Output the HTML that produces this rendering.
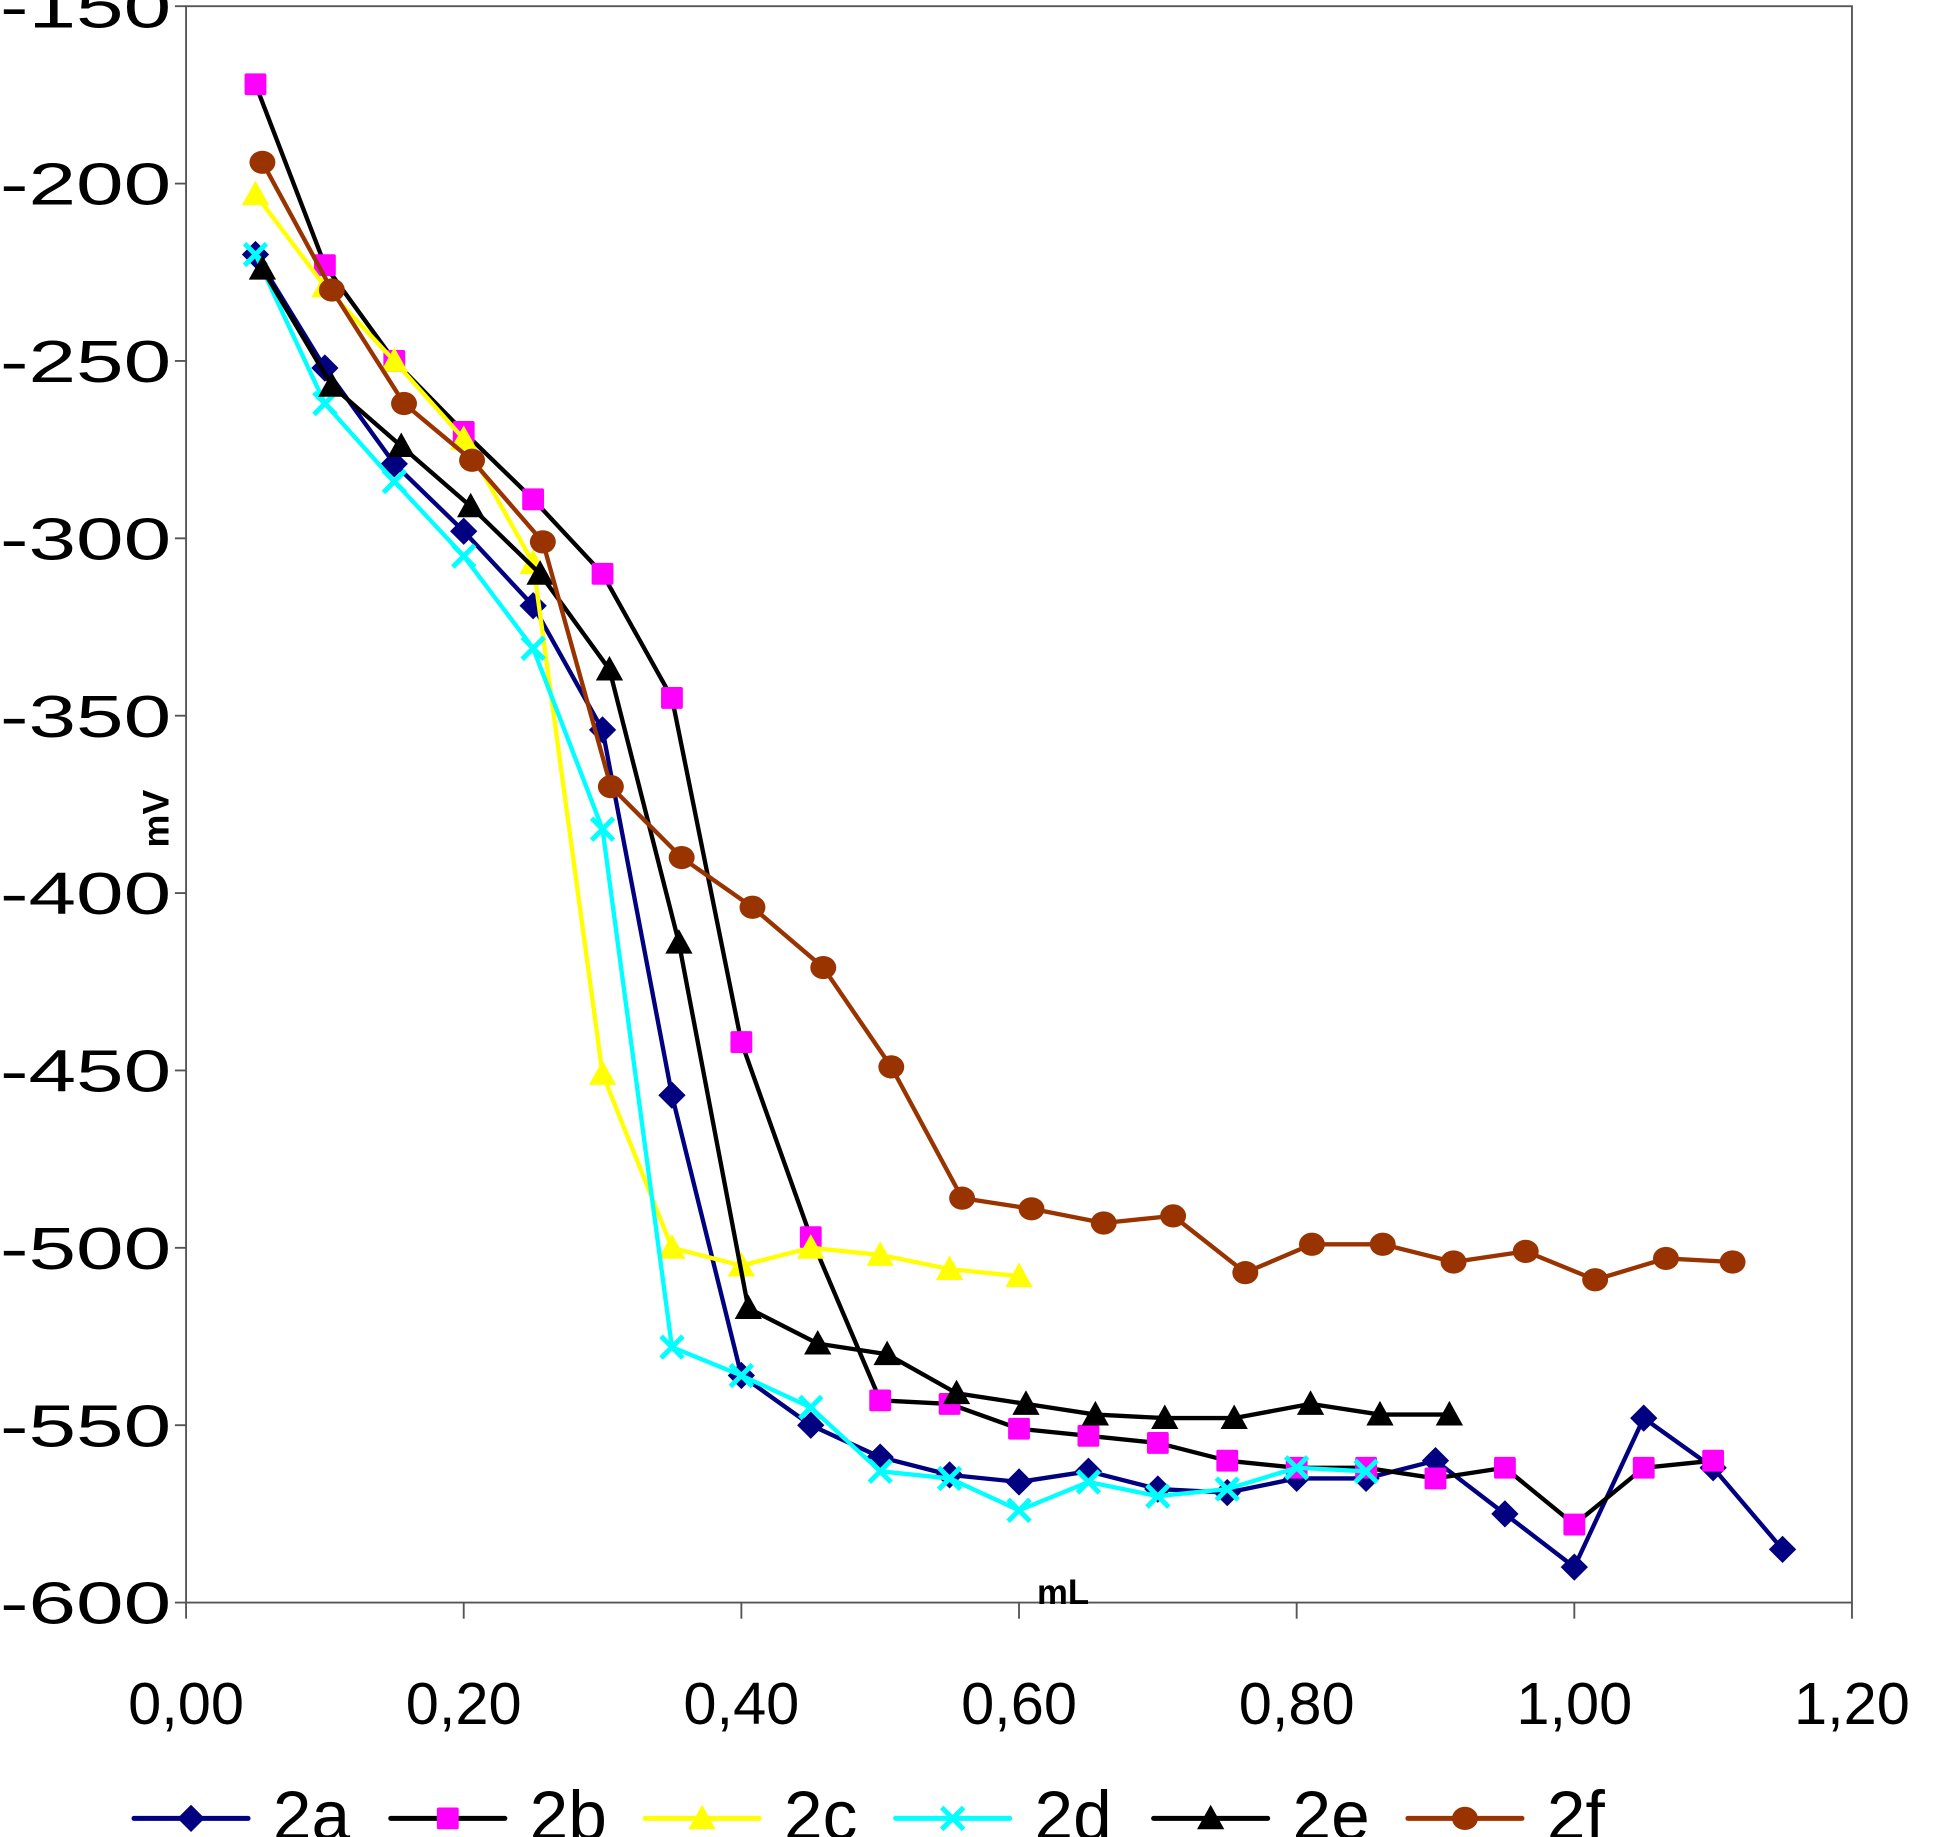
<!DOCTYPE html>
<html><head><meta charset="utf-8"><style>
html,body{margin:0;padding:0;background:#fff;overflow:hidden}
svg{display:block}
text{font-family:"Liberation Sans",sans-serif;fill:#000}
</style></head><body>
<svg id="chart" width="1945" height="1837" viewBox="0 0 1568 1481" preserveAspectRatio="none" xmlns="http://www.w3.org/2000/svg">
<g id="axes"></g>
<g id="series"></g>
<g id="legend"></g>
<text x="136" y="660" font-size="30" font-weight="bold" text-anchor="middle" transform="rotate(-90 136 660)">mV</text>
<text x="857" y="1293" font-size="28" font-weight="bold" text-anchor="middle">mL</text>
</svg>
<script>
const xTicks=[0,0.2,0.4,0.6,0.8,1.0,1.2];
const xTickLabels=["0,00","0,20","0,40","0,60","0,80","1,00","1,20"];
const yTicks=[-150,-200,-250,-300,-350,-400,-450,-500,-550,-600];
const yTickLabels=["-150","-200","-250","-300","-350","-400","-450","-500","-550","-600"];
const names=["2a","2b","2c","2d","2e","2f"];
const x2a=[0.05,0.10,0.15,0.20,0.25,0.30,0.35,0.40,0.45,0.50,0.55,0.60,0.65,0.70,0.75,0.80,0.85,0.90,0.95,1.00,1.05,1.10,1.15];
const y2a=[-220,-252,-279,-298,-319,-354,-457,-536,-550,-559,-564,-566,-563,-568,-569,-565,-565,-560,-575,-590,-548,-562,-585];
const x2b=[0.05,0.10,0.15,0.20,0.25,0.30,0.35,0.40,0.45,0.50,0.55,0.60,0.65,0.70,0.75,0.80,0.85,0.90,0.95,1.00,1.05,1.10];
const y2b=[-172,-223,-250,-270,-289,-310,-345,-442,-497,-543,-544,-551,-553,-555,-560,-562,-562,-565,-562,-578,-562,-560];
const x2c=[0.05,0.10,0.15,0.20,0.25,0.30,0.35,0.40,0.45,0.50,0.55,0.60];
const y2c=[-203,-229,-250,-272,-307,-451,-500,-505,-500,-502,-506,-508];
const x2d=[0.05,0.10,0.15,0.20,0.25,0.30,0.35,0.40,0.45,0.50,0.55,0.60,0.65,0.70,0.75,0.80,0.85];
const y2d=[-220,-262,-284,-305,-331,-382,-528,-536,-545,-563,-565,-574,-566,-570,-568,-562,-563];
const x2e=[0.055,0.105,0.155,0.205,0.255,0.305,0.355,0.405,0.455,0.505,0.555,0.605,0.655,0.705,0.755,0.81,0.86,0.91];
const y2e=[-224,-257,-274,-291,-310,-337,-414,-517,-527,-530,-541,-544,-547,-548,-548,-544,-547,-547];
const x2f=[0.055,0.105,0.157,0.206,0.257,0.306,0.357,0.408,0.459,0.508,0.559,0.609,0.661,0.711,0.763,0.811,0.862,0.913,0.965,1.015,1.066,1.114];
const y2f=[-194,-230,-262,-278,-301,-370,-390,-404,-421,-449,-486,-489,-493,-491,-507,-499,-499,-504,-501,-509,-503,-504];

const NS="http://www.w3.org/2000/svg";
const L=150,R=1493,T=5,B=1292;
const sx=v=>L+(v-0)/1.2*(R-L);
const sy=v=>T+(-150-v)/450*(B-T);
function mk(tag,attrs,parent){const e=document.createElementNS(NS,tag);for(const k in attrs)e.setAttribute(k,attrs[k]);parent.appendChild(e);return e;}
const ax=document.getElementById('axes');
let e;
e=mk('rect',{x:L,y:T,width:R-L,height:B-T,fill:'none',stroke:'#555','stroke-width':1.5},ax);


yTicks.forEach((v,i)=>{
  e=mk('line',{x1:L-9,x2:L,y1:sy(v),y2:sy(v),stroke:'#555','stroke-width':1.5},ax);
  
  
  e=mk('text',{x:0,y:sy(v)+17,'font-size':48,textLength:138,lengthAdjust:'spacingAndGlyphs'},ax);
  e.textContent=yTickLabels[i];
  
  
});
xTicks.forEach((v,i)=>{
  e=mk('line',{x1:sx(v),x2:sx(v),y1:B,y2:B+13,stroke:'#555','stroke-width':1.5},ax);
  
  
  e=mk('text',{x:sx(v),y:1390,'font-size':48,'text-anchor':'middle'},ax);
  e.textContent=xTickLabels[i];
  
  
});
const styles=[
 {line:'#000080',fill:'#000080',m:'diamond'},
 {line:'#000000',fill:'#ff00ff',m:'square'},
 {line:'#ffff00',fill:'#ffff00',m:'triangle'},
 {line:'#00ffff',fill:'#00ffff',m:'x'},
 {line:'#000000',fill:'#000000',m:'triangle'},
 {line:'#993300',fill:'#993300',m:'circle'}];
const xs=[x2a,x2b,x2c,x2d,x2e,x2f], ys=[y2a,y2b,y2c,y2d,y2e,y2f];
function marker(g,type,cx,cy,col,s){
  let m;
  if(type==='diamond')m=mk('polygon',{points:`${cx},${cy-s} ${cx+s},${cy} ${cx},${cy+s} ${cx-s},${cy}`,fill:col},g);
  else if(type==='square')m=mk('rect',{x:cx-s*0.8,y:cy-s*0.8,width:s*1.6,height:s*1.6,fill:col,rx:1.5},g);
  else if(type==='triangle')m=mk('polygon',{points:`${cx},${cy-s} ${cx+s},${cy+s*0.8} ${cx-s},${cy+s*0.8}`,fill:col},g);
  else if(type==='circle')m=mk('ellipse',{cx:cx,cy:cy,rx:s*0.95,ry:s*0.85,fill:col},g);
  else m=mk('path',{d:`M${cx-s*0.8},${cy-s*0.8}L${cx+s*0.8},${cy+s*0.8}M${cx+s*0.8},${cy-s*0.8}L${cx-s*0.8},${cy+s*0.8}`,stroke:col,'stroke-width':4,fill:'none'},g);
  return m;
}
const sg=document.getElementById('series');
styles.forEach((st,i)=>{
  const g=mk('g',{},sg);
  
  
  const pts=xs[i].map((x,j)=>sx(x)+','+sy(ys[i][j])).join(' ');
  e=mk('polyline',{points:pts,fill:'none',stroke:st.line,'stroke-width':3.5,'stroke-linejoin':'round'},g);
  
  
  xs[i].forEach((x,j)=>{
    e=marker(g,st.m,sx(x),sy(ys[i][j]),st.fill,11);
    
    
  });
});
const lg=document.getElementById('legend');
const lx=[108,315,520,722,930,1135];
styles.forEach((st,i)=>{
  const g=mk('g',{},lg);
  
  
  mk('line',{x1:lx[i],x2:lx[i]+92,y1:1466,y2:1466,stroke:st.line,'stroke-width':4,'stroke-linecap':'round'},g);
  marker(g,st.m,lx[i]+46,1466,st.fill,11);
  e=mk('text',{x:lx[i]+112,y:1483,'font-size':56},g);
  e.textContent=names[i];
  
  
});
</script>
</body></html>
